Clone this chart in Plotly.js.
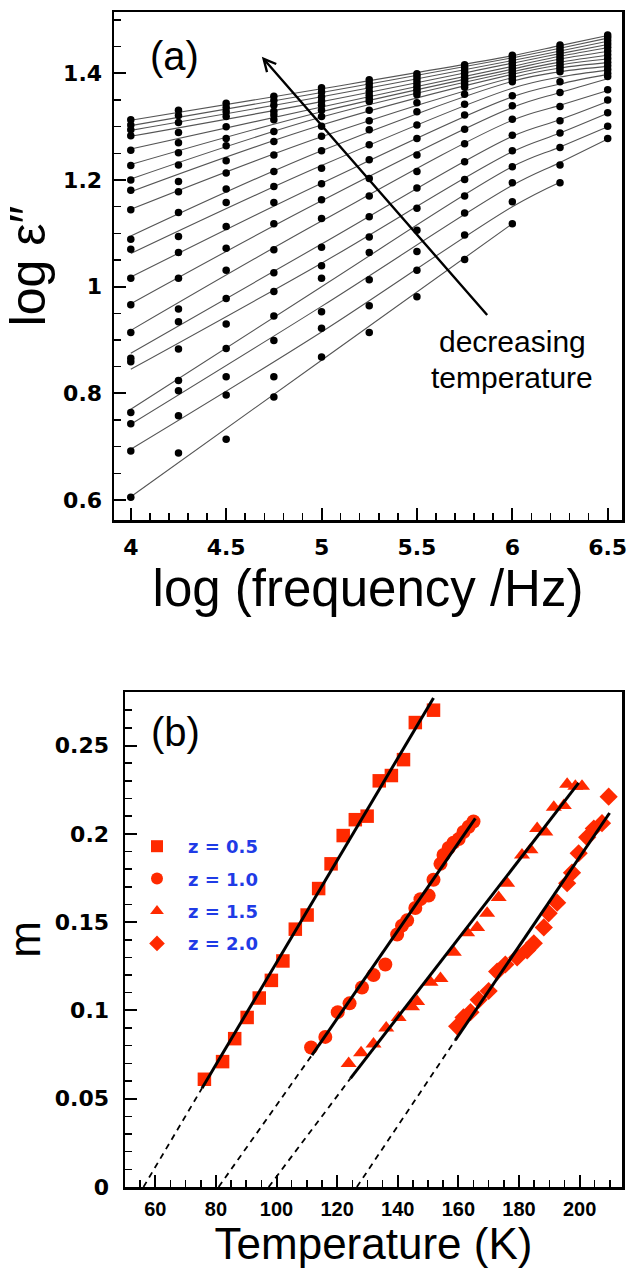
<!DOCTYPE html>
<html><head><meta charset="utf-8">
<script src="https://cdn.plot.ly/plotly-3.0.1.min.js"></script>
<style>body{margin:0;background:#fff}#chart{width:630px;height:1286px}</style>
</head><body><div id="chart"></div>
<script>
// ---------- Panel (a) data: measured points ----------
const logFreq = [4, 4.25, 4.5, 4.75, 5, 5.25, 5.5, 5.75, 6, 6.25, 6.5];
const epsT01 = [1.313, 1.331, 1.344, 1.357, 1.373, 1.388, 1.399, 1.416, 1.434, 1.453, 1.472];
const epsT02 = [1.303, 1.321, 1.336, 1.349, 1.365, 1.381, 1.394, 1.411, 1.429, 1.448, 1.467];
const epsT03 = [1.294, 1.308, 1.328, 1.340, 1.356, 1.374, 1.388, 1.405, 1.424, 1.443, 1.461];
const epsT04 = [1.283, 1.289, 1.319, 1.329, 1.348, 1.366, 1.382, 1.400, 1.419, 1.438, 1.455];
const epsT05 = [1.256, 1.270, 1.300, 1.322, 1.340, 1.359, 1.376, 1.394, 1.414, 1.433, 1.449];
const epsT06 = [1.227, 1.251, 1.278, 1.313, 1.331, 1.353, 1.370, 1.389, 1.409, 1.428, 1.442];
const epsT07 = [1.200, 1.228, 1.264, 1.291, 1.319, 1.347, 1.365, 1.384, 1.404, 1.423, 1.435];
const epsT08 = [1.181, 1.197, 1.236, 1.272, 1.301, 1.331, 1.360, 1.379, 1.399, 1.418, 1.428];
const epsT09 = [1.144, 1.178, 1.213, 1.247, 1.282, 1.311, 1.345, 1.374, 1.394, 1.413, 1.421];
const epsT10 = [1.089, 1.139, 1.183, 1.216, 1.255, 1.294, 1.328, 1.361, 1.389, 1.408, 1.414];
const epsT11 = [1.070, 1.094, 1.158, 1.188, 1.222, 1.266, 1.303, 1.342, 1.384, 1.403, 1.407];
const epsT12 = [1.016, 1.064, 1.113, 1.158, 1.193, 1.238, 1.278, 1.322, 1.358, 1.384, 1.400];
const epsT13 = [0.966, 1.016, 1.072, 1.118, 1.163, 1.203, 1.247, 1.295, 1.339, 1.364, 1.394];
const epsT14 = [0.914, 0.958, 1.031, 1.069, 1.128, 1.170, 1.216, 1.268, 1.314, 1.338, 1.369];
const epsT15 = [0.866, 0.934, 0.978, 1.026, 1.074, 1.131, 1.185, 1.234, 1.284, 1.311, 1.350];
const epsT16 = [0.859, 0.883, 0.930, 0.991, 1.039, 1.093, 1.147, 1.201, 1.255, 1.288, 1.326];
const epsT17 = [0.764, 0.824, 0.884, 0.945, 1.016, 1.064, 1.106, 1.170, 1.225, 1.261, 1.301];
const epsT18 = [0.743, 0.805, 0.831, 0.899, 0.953, 1.013, 1.066, 1.138, 1.195, 1.228, 1.278];
const epsT19 = [0.692, 0.758, 0.797, 0.831, 0.922, 0.964, 1.031, 1.097, 1.159, 1.195, null];
const epsT20 = [0.605, 0.688, 0.714, 0.793, 0.868, 0.914, 0.981, 1.051, 1.118, null, null];
const epsCurves = [epsT01, epsT02, epsT03, epsT04, epsT05, epsT06, epsT07, epsT08, epsT09, epsT10,
                   epsT11, epsT12, epsT13, epsT14, epsT15, epsT16, epsT17, epsT18, epsT19, epsT20];

// ---------- Panel (a): fitted curves, read at these frequencies ----------
const fitFreq = [4, 5, 6, 6.25, 6.5];
const fitT01 = [1.312, 1.371, 1.433, 1.452, 1.471];
const fitT02 = [1.302, 1.364, 1.429, 1.447, 1.466];
const fitT03 = [1.293, 1.356, 1.424, 1.442, 1.460];
const fitT04 = [1.282, 1.347, 1.419, 1.437, 1.454];
const fitT05 = [1.258, 1.337, 1.413, 1.432, 1.448];
const fitT06 = [1.229, 1.328, 1.408, 1.427, 1.441];
const fitT07 = [1.202, 1.318, 1.403, 1.421, 1.434];
const fitT08 = [1.178, 1.303, 1.398, 1.416, 1.427];
const fitT09 = [1.145, 1.281, 1.392, 1.410, 1.420];
const fitT10 = [1.095, 1.255, 1.385, 1.403, 1.413];
const fitT11 = [1.062, 1.227, 1.372, 1.393, 1.406];
const fitT12 = [1.018, 1.194, 1.356, 1.380, 1.398];
const fitT13 = [0.968, 1.161, 1.336, 1.364, 1.390];
const fitT14 = [0.918, 1.123, 1.312, 1.340, 1.368];
const fitT15 = [0.875, 1.080, 1.282, 1.313, 1.347];
const fitT16 = [0.845, 1.044, 1.253, 1.288, 1.325];
const fitT17 = [0.770, 1.000, 1.225, 1.262, 1.300];
const fitT18 = [0.742, 0.963, 1.190, 1.233, 1.277];
const fitT19 = [0.695, 0.915, 1.150, 1.196, null];
const fitT20 = [0.606, 0.862, 1.118, null, null];
const fitCurves = [fitT01, fitT02, fitT03, fitT04, fitT05, fitT06, fitT07, fitT08, fitT09, fitT10,
                   fitT11, fitT12, fitT13, fitT14, fitT15, fitT16, fitT17, fitT18, fitT19, fitT20];

// ---------- Panel (b) data ----------
const legendLabels = ['z = 0.5', 'z = 1.0', 'z = 1.5', 'z = 2.0'];
const T_z05 = [76.2, 82.2, 86.2, 90.3, 94.3, 98.3, 102.1, 106.2, 110.1, 113.9, 118.0, 122.0, 126.0, 129.9, 133.9, 137.9, 141.9, 145.8, 151.8];
const m_z05 = [0.061, 0.071, 0.084, 0.096, 0.107, 0.117, 0.128, 0.146, 0.154, 0.169, 0.183, 0.199, 0.208, 0.210, 0.230, 0.233, 0.242, 0.263, 0.270];
const T_z10 = [111.4, 116.1, 120.2, 124.1, 128.2, 132.0, 135.9, 139.8, 141.4, 143.1, 145.8, 147.5, 150.2, 151.8, 154.1, 155.1, 156.8, 158.4, 160.1, 161.7, 163.4, 165.0];
const m_z10 = [0.079, 0.085, 0.099, 0.104, 0.113, 0.120, 0.126, 0.143, 0.148, 0.151, 0.158, 0.163, 0.165, 0.174, 0.183, 0.188, 0.192, 0.195, 0.197, 0.201, 0.204, 0.207];
const T_z15 = [123.8, 127.9, 132.0, 136.2, 140.3, 144.7, 146.4, 150.8, 154.1, 158.5, 162.9, 166.2, 169.5, 173.3, 176.1, 181.0, 183.8, 186.0, 188.7, 191.5, 194.8, 195.9, 198.6, 200.8];
const m_z15 = [0.070, 0.076, 0.081, 0.090, 0.096, 0.102, 0.105, 0.116, 0.118, 0.133, 0.144, 0.147, 0.155, 0.164, 0.172, 0.188, 0.191, 0.203, 0.201, 0.215, 0.216, 0.228, 0.227, 0.227];
const T_z20 = [159.6, 161.7, 164.0, 166.7, 170.0, 172.8, 175.5, 179.4, 182.7, 184.9, 188.2, 189.8, 192.6, 195.9, 197.5, 199.7, 202.5, 204.7, 207.4, 209.6];
const m_z20 = [0.091, 0.096, 0.099, 0.106, 0.111, 0.122, 0.126, 0.130, 0.134, 0.138, 0.147, 0.155, 0.161, 0.172, 0.178, 0.189, 0.198, 0.203, 0.206, 0.221];
// fitted lines (solid) and extrapolations to m = 0 (dashed), end points
const fitT_z05 = [75.4, 151.8],  fitM_z05 = [0.0559, 0.2769];
const fitT_z10 = [111.7, 165.6], fitM_z10 = [0.0747, 0.2087];
const fitT_z15 = [124.4, 199.7], fitM_z15 = [0.0615, 0.2288];
const fitT_z20 = [159.0, 209.9], fitM_z20 = [0.0832, 0.2118];
const dashT_z05 = [56.1, 75.4],  dashM_z05 = [0, 0.0559];
const dashT_z10 = [80.9, 111.7], dashM_z10 = [0, 0.0747];
const dashT_z15 = [97.4, 124.4], dashM_z15 = [0, 0.0615];
const dashT_z20 = [126.5, 159.0], dashM_z20 = [0, 0.0832];

// ---------- build ----------
const W = 630, H = 1286;
const px = v => v / W, py = v => (H - v) / H;
const RED = '#ff2a00';
const tickFontA = {family: 'DejaVu Sans', size: 22, color: '#000', weight: 'bold'};
const tickFontBx = {family: 'Liberation Sans', size: 20, color: '#000', weight: 'bold'};
const titleFont = s => ({family: 'Liberation Sans', size: s, color: '#000'});
const traces = [];

fitCurves.forEach(c => {
  traces.push({
    x: fitFreq, y: c, xaxis: 'x', yaxis: 'y', type: 'scatter', mode: 'lines',
    line: {color: '#555', width: 1.1, shape: 'spline', smoothing: 1},
    showlegend: false, hoverinfo: 'skip', connectgaps: false
  });
});
epsCurves.forEach(c => {
  traces.push({
    x: logFreq, y: c, xaxis: 'x', yaxis: 'y', type: 'scatter', mode: 'markers',
    marker: {color: '#000', size: 7.5, symbol: 'circle'},
    showlegend: false, hoverinfo: 'skip'
  });
});

const groups = [
  {T: T_z05, m: m_z05, fT: fitT_z05, fM: fitM_z05, dT: dashT_z05, dM: dashM_z05, sym: 'square', size: 13.5},
  {T: T_z10, m: m_z10, fT: fitT_z10, fM: fitM_z10, dT: dashT_z10, dM: dashM_z10, sym: 'circle', size: 14},
  {T: T_z15, m: m_z15, fT: fitT_z15, fM: fitM_z15, dT: dashT_z15, dM: dashM_z15, sym: 'triangle-up', size: 14},
  {T: T_z20, m: m_z20, fT: fitT_z20, fM: fitM_z20, dT: dashT_z20, dM: dashM_z20, sym: 'diamond', size: 14}
];
groups.forEach((g, i) => {
  traces.push({
    x: g.T, y: g.m, xaxis: 'x2', yaxis: 'y2', type: 'scatter', mode: 'markers',
    name: legendLabels[i], legendgroup: 'g' + i,
    marker: {color: RED, size: g.size, symbol: g.sym, line: {width: 0}}
  });
});
groups.forEach(g => {
  traces.push({
    x: g.dT, y: g.dM, xaxis: 'x2', yaxis: 'y2', type: 'scatter', mode: 'lines',
    line: {color: '#000', width: 1.8, dash: '6px,5px'}, showlegend: false, hoverinfo: 'skip'
  });
  traces.push({
    x: g.fT, y: g.fM, xaxis: 'x2', yaxis: 'y2', type: 'scatter', mode: 'lines',
    line: {color: '#000', width: 3}, showlegend: false, hoverinfo: 'skip'
  });
});

const axisBase = {
  showgrid: false, zeroline: false, showline: true, mirror: true, linecolor: '#000', linewidth: 2.5,
  ticks: 'inside', ticklen: 12, tickwidth: 2, tickcolor: '#000', tickfont: tickFontA
};

const layout = {
  width: W, height: H, margin: {l: 0, r: 0, t: 0, b: 0},
  paper_bgcolor: '#fff', plot_bgcolor: '#fff',
  showlegend: true,
  legend: {
    x: px(126), y: py(828), xanchor: 'left', yanchor: 'top',
    bgcolor: 'rgba(0,0,0,0)', borderwidth: 0, tracegroupgap: 6, itemwidth: 52,
    font: {family: 'DejaVu Sans', size: 18, color: '#1f3be6', weight: 'bold'},
    itemsizing: 'constant'
  },
  xaxis: Object.assign({}, axisBase, {
    domain: [px(114), px(622)], anchor: 'y', range: [3.912, 6.575], dtick: 0.5, tick0: 4,
    minor: {ticks: 'inside', dtick: 0.1, ticklen: 7, tickwidth: 1.5, tickcolor: '#000'},
    ticklabelstandoff: 6,
    title: {text: 'log (frequency /Hz)', font: titleFont(51), standoff: 10}
  }),
  yaxis: Object.assign({}, axisBase, {
    domain: [py(520), py(12)], anchor: 'x', range: [0.5625, 1.515], dtick: 0.2, tick0: 0.6,
    minor: {ticks: 'inside', dtick: 0.05, ticklen: 7, tickwidth: 1.5, tickcolor: '#000'},
    ticklabelstandoff: 5,
    title: {text: 'log ε\u2033', font: titleFont(50), standoff: 12}
  }),
  xaxis2: Object.assign({}, axisBase, {
    domain: [px(125), px(622)], anchor: 'y2', range: [50, 214], dtick: 20, tick0: 60,
    minor: {ticks: 'inside', dtick: 5, ticklen: 7, tickwidth: 1.5, tickcolor: '#000'},
    tickfont: tickFontBx, ticklabelstandoff: 2,
    title: {text: 'Temperature (K)', font: titleFont(44), standoff: 8}
  }),
  yaxis2: Object.assign({}, axisBase, {
    domain: [py(1187), py(692)], anchor: 'x2', range: [0, 0.2803], dtick: 0.05, tick0: 0,
    minor: {ticks: 'inside', dtick: 0.01, ticklen: 7, tickwidth: 1.5, tickcolor: '#000'},
    ticklabelstandoff: 9,
    title: {text: 'm', font: titleFont(44), standoff: 14}
  }),
  annotations: [
    {xref: 'paper', yref: 'paper', x: px(174), y: py(56), text: '(a)', showarrow: false,
     font: titleFont(40), xanchor: 'center', yanchor: 'middle'},
    {xref: 'paper', yref: 'paper', x: px(175), y: py(732), text: '(b)', showarrow: false,
     font: titleFont(40), xanchor: 'center', yanchor: 'middle'},
    {xref: 'paper', yref: 'paper', x: px(512), y: py(342), text: 'decreasing', showarrow: false,
     font: titleFont(30), xanchor: 'center', yanchor: 'middle'},
    {xref: 'paper', yref: 'paper', x: px(512), y: py(377), text: 'temperature', showarrow: false,
     font: titleFont(30), xanchor: 'center', yanchor: 'middle'},
    {xref: 'x', yref: 'y', x: 4.687, y: 1.431, axref: 'x', ayref: 'y', ax: 5.875, ay: 0.944,
     text: '', showarrow: true, arrowhead: 5, arrowsize: 1, arrowwidth: 2.4, arrowcolor: '#000', standoff: 0}
  ]
};

Plotly.newPlot('chart', traces, layout, {staticPlot: true, displayModeBar: false});
</script>
</body></html>
